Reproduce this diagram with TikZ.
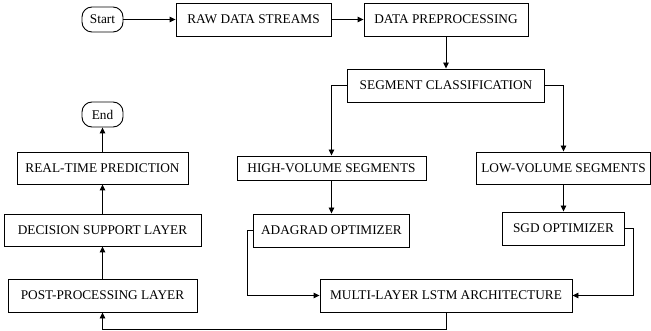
\documentclass[tikz,border=0pt]{standalone}
\usepackage{fontspec}
\setmainfont{Liberation Serif}
\usetikzlibrary{arrows.meta}
\begin{document}
\begin{tikzpicture}[x=1pt,y=-1pt,
  box/.style={draw, line width=0.9pt, inner sep=0pt, minimum height=33pt, font=\fontsize{13.3}{16}\selectfont},
  term/.style={draw, line width=0.9pt, rounded corners=10pt, inner sep=0pt, minimum width=41pt, minimum height=25pt, font=\fontsize{13.3}{16}\selectfont},
  conn/.style={line width=0.9pt, -{Triangle[length=6pt,width=5.5pt]}}]
\useasboundingbox (0,0) rectangle (651,331);
\node[term] (start) at (102.5,19.5) {Start};
\node[box, minimum width=155pt] (raw) at (253.5,19.5) {RAW DATA STREAMS};
\node[box, minimum width=164pt] (prep) at (446,19.5) {DATA PREPROCESSING};
\node[box, minimum width=197pt] (seg) at (446,85.5) {SEGMENT CLASSIFICATION};
\node[box, minimum width=189pt, minimum height=24pt] (high) at (331.5,168) {HIGH-VOLUME SEGMENTS};
\node[box, minimum width=174pt, minimum height=32pt] (low) at (563.5,168) {LOW-VOLUME SEGMENTS};
\node[box, minimum width=156pt] (ada) at (331.5,230.5) {ADAGRAD OPTIMIZER};
\node[box, minimum width=122pt] (sgd) at (563.5,228.5) {SGD OPTIMIZER};
\node[box, minimum width=252pt] (lstm) at (446,295.5) {MULTI-LAYER LSTM ARCHITECTURE};
\node[box, minimum width=189pt] (post) at (102.5,295.5) {POST-PROCESSING LAYER};
\node[box, minimum width=197pt, minimum height=32pt] (dec) at (102.5,230) {DECISION SUPPORT LAYER};
\node[box, minimum width=171pt, minimum height=32pt] (rtp) at (102.5,168) {REAL-TIME PREDICTION};
\node[term] (end) at (102.5,114.5) {End};

\draw[conn] (start) -- (raw);
\draw[conn] (raw) -- (prep);
\draw[conn] (prep) -- (seg);
\draw[conn] (seg.west) -| (high.north);
\draw[conn] (seg.east) -| (low.north);
\draw[conn] (high) -- (ada);
\draw[conn] (low) -- (sgd);
\draw[conn] (ada.west) -- ++(-6,0) |- (lstm.west);
\draw[conn] (sgd.east) -- ++(8,0) |- (lstm.east);
\draw[conn] (lstm.south) -- ++(0,17) -| (post.south);
\draw[conn] (post) -- (dec);
\draw[conn] (dec) -- (rtp);
\draw[conn] (rtp) -- (end);
\end{tikzpicture}
\end{document}
